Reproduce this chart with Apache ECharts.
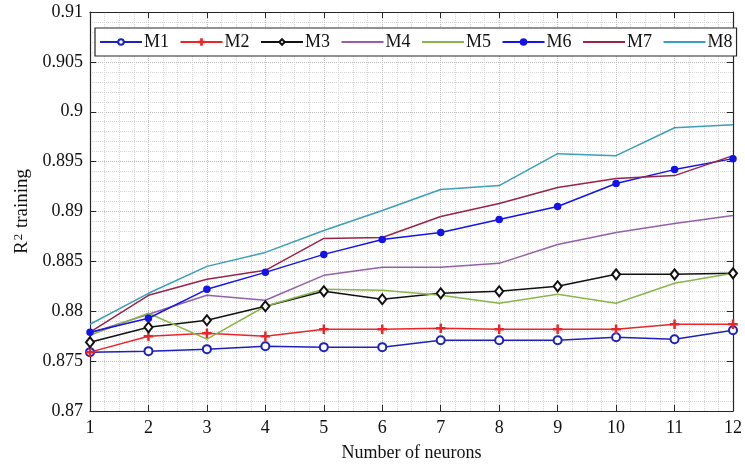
<!DOCTYPE html>
<html><head><meta charset="utf-8">
<script src="https://cdn.jsdelivr.net/npm/echarts@6/dist/echarts.min.js"></script>
<style>html,body{margin:0;padding:0;background:#fff}#c{width:745px;height:467px}</style>
</head><body><div id="c"></div>
<script>
const neurons = [1,2,3,4,5,6,7,8,9,10,11,12];
const yTicks = [0.87,0.875,0.88,0.885,0.89,0.895,0.9,0.905,0.91];
const seriesNames = ['M1','M2','M3','M4','M5','M6','M7','M8'];
const M1 = [0.8759,0.8760,0.8762,0.8765,0.8764,0.8764,0.8771,0.8771,0.8771,0.8774,0.8772,0.8781];
const M2 = [0.8759,0.8775,0.8778,0.8775,0.8782,0.8782,0.8783,0.8782,0.8782,0.8782,0.8787,0.8787];
const M3 = [0.8769,0.8784,0.8791,0.8805,0.8820,0.8812,0.8818,0.8820,0.8825,0.8837,0.8837,0.8838];
const M4 = [0.8778,0.8797,0.8816,0.8811,0.8836,0.8844,0.8844,0.8848,0.8867,0.8879,0.8888,0.8896];
const M5 = [0.8776,0.8798,0.8772,0.8805,0.8822,0.8821,0.8816,0.8808,0.8817,0.8808,0.8828,0.8838];
const M6 = [0.8779,0.8793,0.8822,0.8839,0.8857,0.8872,0.8879,0.8892,0.8905,0.8928,0.8942,0.8953];
const M7 = [0.8779,0.8816,0.8832,0.8841,0.8873,0.8874,0.8895,0.8908,0.8924,0.8933,0.8936,0.8956];
const M8 = [0.8787,0.8818,0.8845,0.8859,0.8881,0.8901,0.8922,0.8926,0.8958,0.8956,0.8984,0.8987];
const allValues = [M1,M2,M3,M4,M5,M6,M7,M8];

const FONT = "'Liberation Serif','Times New Roman',serif";
const colors = ['#1f22b8','#e8262a','#111111','#9560a8','#8bb54a','#1414e6','#9a2445','#3a9fb8'];
const plus = 'path://M4.4,0 H5.6 V4.4 H10 V5.6 H5.6 V10 H4.4 V5.6 H0 V4.4 H4.4 Z';
const symbols = ['emptyCircle', plus, 'emptyDiamond', 'none', 'none', 'circle', 'none', 'none'];
const symSizes = [8, 8, [8,10], 0, 0, 6, 0, 0];

const series = seriesNames.map((n, i) => ({
  name: n, type: 'line', xAxisIndex: 0, yAxisIndex: 0,
  data: neurons.map((x, j) => [x, allValues[i][j]]),
  symbol: symbols[i], symbolSize: symSizes[i], showSymbol: symbols[i] !== 'none',
  lineStyle: {color: colors[i], width: 1.5},
  itemStyle: {color: colors[i], borderColor: colors[i], borderWidth: 1.5},
  emphasis: {disabled: true}, animation: false, z: 3
}));

const legendData = seriesNames.map((n, i) => symbols[i] === 'none'
  ? {name: n, itemStyle: {opacity: 0}}
  : {name: n});

const fmt = v => String(+(+v).toFixed(3));
const gridLine = {show: true, lineStyle: {color: '#bdbdbd', type: 'dotted', width: 1}};
const minorLine = {show: true, lineStyle: {color: '#d6d6d6', type: 'dotted', width: 1}};
const axisLine = {show: true, lineStyle: {color: '#262626', width: 1.2}};
const tick = {show: true, inside: true, length: 6, lineStyle: {color: '#262626', width: 1}};

const chart = echarts.init(document.getElementById('c'), null, {renderer: 'canvas'});
chart.setOption({
  backgroundColor: '#fff',
  animation: false,
  textStyle: {fontFamily: FONT},
  grid: {left: 90, right: 9, top: 12, bottom: 55, containLabel: false},
  legend: {
    data: legendData, left: 95, top: 28, orient: 'horizontal',
    itemWidth: 42, itemHeight: 7, itemGap: 10.5,
    padding: [5, 4, 5, 4],
    borderColor: '#262626', borderWidth: 1.2, backgroundColor: '#fff',
    textStyle: {fontFamily: FONT, fontSize: 18, color: '#111', padding: [0,0,0,-3]},
    z: 10
  },
  xAxis: [{
    type: 'value', min: 1, max: 12, interval: 1,
    name: 'Number of neurons', nameLocation: 'middle', nameGap: 33,
    nameTextStyle: {fontFamily: FONT, fontSize: 18, color: '#111'},
    axisLine: axisLine, axisTick: tick,
    axisLabel: {fontFamily: FONT, fontSize: 18, color: '#111', margin: 8},
    splitLine: gridLine,
    minorTick: {show: false, splitNumber: 4},
    minorSplitLine: minorLine
  }, {
    type: 'value', min: 1, max: 12, interval: 1, position: 'top',
    axisLine: axisLine, axisTick: tick, axisLabel: {show: false}, splitLine: {show: false}
  }],
  yAxis: [{
    type: 'value', min: yTicks[0], max: yTicks[yTicks.length-1], interval: 0.005,
    name: '{a|R}{s|2}{a| training}', nameLocation: 'middle', nameGap: 46,
    nameTextStyle: {rich: {
      a: {fontFamily: FONT, fontSize: 19, color: '#111'},
      s: {fontFamily: FONT, fontSize: 13, color: '#111', verticalAlign: 'top', padding: [0,1,8,1]}
    }},
    axisLine: axisLine, axisTick: tick,
    axisLabel: {fontFamily: FONT, fontSize: 18, color: '#111', margin: 7, formatter: fmt},
    splitLine: gridLine,
    minorTick: {show: false, splitNumber: 5},
    minorSplitLine: minorLine
  }, {
    type: 'value', min: yTicks[0], max: yTicks[yTicks.length-1], interval: 0.005, position: 'right',
    axisLine: axisLine, axisTick: tick, axisLabel: {show: false}, splitLine: {show: false}
  }],
  series: series
});
</script></body></html>
